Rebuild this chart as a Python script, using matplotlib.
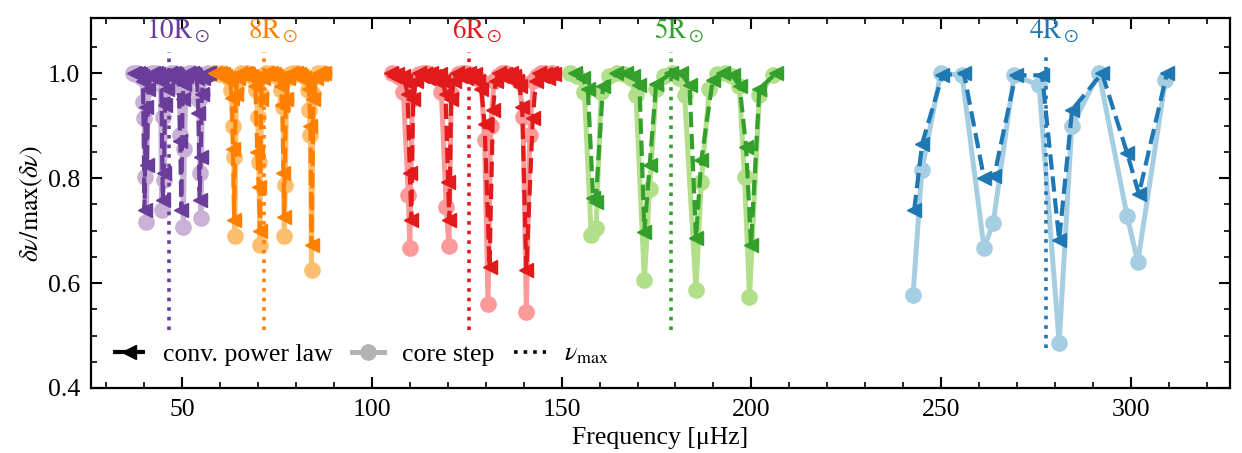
import numpy as np
import matplotlib
matplotlib.use("Agg")
import matplotlib.pyplot as plt
from matplotlib.lines import Line2D

plt.rcParams['font.family'] = ['Liberation Serif', 'DejaVu Serif']
plt.rcParams['mathtext.fontset'] = 'stix'

# ---------- data ----------
labels = ['10', '8', '6', '5', '4']
dark = ['#6a3d9a', '#ff7f00', '#e31a1c', '#33a02c', '#1f78b4']
light = ['#cab2d6', '#fdbf6f', '#fb9a99', '#b2df8a', '#a6cee3']
numax = [46.6, 71.7, 125.5, 178.9, 277.6]
numax_lo = [0.51, 0.51, 0.51, 0.51, 0.476]
numax_hi = [1.04, 1.04, 1.04, 1.04, 1.04]

# 10 Msun
fc10 = [37.1, 37.6, 38.1, 38.6, 39.0, 39.4, 39.7, 40.0, 40.3, 40.6, 41.0, 41.5,
        42.0, 42.5, 43.0, 43.5, 43.9, 44.3, 44.6, 45.0, 45.3, 45.6, 46.0, 46.5,
        47.0, 47.5, 48.0, 48.4, 48.8, 49.2, 49.5, 49.9, 50.3, 50.6, 51.0, 51.4,
        51.9, 52.4, 52.9, 53.3, 53.7, 54.1, 54.4, 54.7, 55.0, 55.3, 55.7, 56.2, 56.7]
dc10 = [1.0, 0.998, 1.0, 0.998, 0.995, 0.99, 0.945, 0.914, 0.802, 0.717, 0.97, 0.995,
        1.0, 0.998, 1.0, 0.998, 0.995, 0.99, 0.739, 0.917, 0.796, 0.97, 0.995, 0.998,
        1.0, 0.998, 1.0, 0.998, 0.995, 0.99, 0.882, 0.97, 0.707, 0.855, 0.97, 0.995,
        1.0, 0.998, 1.0, 0.998, 0.995, 0.99, 0.949, 0.81, 0.724, 0.96, 0.99, 0.998, 1.0]
fp10 = [37.4, 37.9, 38.4, 38.9, 39.3, 39.7, 40.1, 40.4, 40.7, 41.1, 41.6,
        42.2, 42.7, 43.2, 43.7, 44.1, 44.5, 44.9, 45.2, 45.5, 45.9, 46.4,
        46.9, 47.4, 47.9, 48.3, 48.7, 49.1, 49.5, 49.8, 50.1, 50.5, 51.0,
        51.6, 52.1, 52.6, 53.1, 53.5, 53.9, 54.3, 54.6, 54.9, 55.2, 55.6, 56.1, 56.6, 57.1]
dp10 = [1.0, 0.998, 1.0, 0.998, 0.995, 0.985, 0.739, 0.936, 0.825, 0.97, 0.995,
        1.0, 0.998, 1.0, 0.998, 0.995, 0.985, 0.758, 0.81, 0.94, 0.97, 0.995,
        1.0, 0.998, 1.0, 0.998, 0.995, 0.985, 0.87, 0.739, 0.95, 0.98, 0.995,
        1.0, 0.998, 1.0, 0.998, 0.995, 0.99, 0.925, 0.758, 0.84, 0.96, 0.99, 0.998, 1.0, 1.0]

# 8 Msun
fc8 = [58.3, 59.0, 59.7, 60.4, 61.1, 61.8, 62.4, 62.9, 63.3, 63.6, 63.9, 64.3, 64.9,
       65.6, 66.3, 67.0, 67.7, 68.4, 69.0, 69.5, 69.9, 70.2, 70.5, 70.9, 71.5,
       72.2, 72.9, 73.6, 74.3, 75.0, 75.6, 76.1, 76.6, 76.9, 77.2, 77.5, 77.9, 78.5,
       79.2, 79.9, 80.6, 81.3, 82.0, 82.6, 83.1, 83.5, 83.8, 84.1, 84.5, 85.2, 85.9, 86.6, 87.3]
dc8 = [1.0, 1.0, 0.998, 1.0, 0.998, 0.995, 0.99, 0.968, 0.90, 0.84, 0.69, 0.97, 0.995,
       1.0, 0.998, 1.0, 0.998, 0.995, 0.99, 0.968, 0.917, 0.83, 0.672, 0.96, 0.995,
       1.0, 0.998, 1.0, 0.998, 0.995, 0.99, 0.968, 0.936, 0.69, 0.787, 0.95, 0.99, 0.998,
       1.0, 0.998, 1.0, 0.998, 0.995, 0.99, 0.968, 0.93, 0.882, 0.625, 0.96, 0.995, 1.0, 0.998, 1.0]
fp8 = [58.6, 59.3, 60.0, 60.7, 61.4, 62.0, 62.6, 63.1, 63.4, 63.7, 64.1, 64.6,
       65.3, 66.0, 66.7, 67.4, 68.1, 68.7, 69.3, 69.8, 70.2, 70.5, 70.8, 71.3,
       72.0, 72.7, 73.4, 74.1, 74.8, 75.4, 76.0, 76.4, 76.7, 76.9, 77.3, 77.9,
       78.6, 79.3, 80.0, 80.7, 81.4, 82.1, 82.8, 83.4, 83.8, 84.1, 84.6, 85.3, 86.0, 86.7, 87.4]
dp8 = [1.0, 0.998, 1.0, 0.998, 0.995, 0.99, 0.985, 0.952, 0.855, 0.72, 0.96, 0.99,
       1.0, 0.998, 1.0, 0.998, 0.995, 0.99, 0.975, 0.85, 0.784, 0.70, 0.95, 0.99,
       1.0, 0.998, 1.0, 0.998, 0.995, 0.99, 0.975, 0.94, 0.81, 0.726, 0.95, 0.99,
       1.0, 0.998, 1.0, 0.998, 0.995, 0.99, 0.985, 0.97, 0.90, 0.672, 0.95, 0.99, 1.0, 0.998, 1.0]

# 6 Msun
fc6 = [105.2, 106.0, 106.8, 107.6, 108.3, 109.6, 110.0, 110.6, 111.5,
       112.5, 113.5, 114.5, 115.5, 116.5, 117.4, 118.3, 119.6, 120.3, 120.9, 121.8,
       122.8, 123.8, 124.8, 125.8, 126.8, 127.8, 128.8, 129.7, 130.6, 131.3, 132.2,
       133.2, 134.2, 135.2, 136.2, 137.2, 138.0, 138.8, 139.8, 140.7, 141.6, 142.5,
       143.5, 144.5, 145.5, 146.5, 147.5]
dc6 = [1.0, 0.998, 0.995, 0.99, 0.964, 0.768, 0.667, 0.95, 0.99,
       0.998, 1.0, 1.0, 0.998, 0.995, 0.99, 0.964, 0.745, 0.670, 0.96, 0.99,
       0.998, 1.0, 1.0, 0.998, 0.995, 0.99, 0.985, 0.872, 0.561, 0.90, 0.985,
       0.995, 1.0, 1.0, 0.998, 0.995, 0.99, 0.985, 0.917, 0.545, 0.882, 0.985,
       0.995, 1.0, 1.0, 0.998, 1.0]
fp6 = [105.0, 105.8, 106.6, 107.4, 108.1, 108.7, 109.4, 110.0, 110.4, 110.9, 111.6,
       112.4, 113.2, 114.0, 114.8, 115.6, 116.4, 117.2, 118.0, 118.7, 119.4, 120.1, 120.4, 120.9, 121.6,
       122.4, 123.2, 124.0, 124.8, 125.6, 126.4, 127.2, 128.0, 128.8, 129.7, 131.0, 131.9, 132.6,
       133.4, 134.2, 135.0, 135.8, 136.6, 137.4, 138.2, 138.9, 139.6, 140.7, 142.4, 143.2,
       144.0, 144.8, 145.6, 146.4, 147.2, 148.0]
dp6 = [1.0, 0.995, 0.998, 0.99, 0.995, 0.985, 0.96, 0.81, 0.72, 0.95, 0.985,
       1.0, 0.995, 0.998, 0.99, 1.0, 0.995, 0.985, 0.998, 0.985, 0.96, 0.793, 0.72, 0.95, 0.985,
       1.0, 0.995, 0.998, 0.99, 1.0, 0.995, 0.998, 0.985, 0.97, 0.904, 0.631, 0.93, 0.985,
       1.0, 0.995, 0.998, 0.99, 1.0, 0.995, 0.985, 0.975, 0.936, 0.625, 0.914, 0.985,
       1.0, 0.995, 0.998, 0.99, 1.0, 0.998]

# 5 Msun
fc5 = [152.1, 154.0, 156.0, 157.8, 159.1, 160.4, 162.5, 164.5, 166.5, 168.2,
       169.6, 171.8, 173.2, 174.9, 177.0, 179.0, 181.0, 182.4, 185.4, 186.8,
       188.9, 191.0, 193.0, 195.0, 196.8, 198.2, 199.5, 202.1, 205.6]
dc5 = [1.0, 0.995, 0.964, 0.691, 0.705, 0.964, 0.995, 1.0, 0.998, 0.99,
       0.958, 0.606, 0.780, 0.970, 0.995, 1.0, 0.99, 0.958, 0.587, 0.793,
       0.970, 0.998, 1.0, 0.995, 0.975, 0.802, 0.574, 0.958, 0.996]
fp5 = [153.4, 155.5, 156.9, 158.3, 159.0, 160.9, 164.4, 167.0, 168.8, 170.5,
       171.8, 173.2, 174.9, 178.9, 181.5, 183.7, 185.4, 186.8, 189.8, 192.5,
       195.1, 196.9, 198.6, 199.9, 202.1, 206.5]
dp5 = [1.0, 0.99, 0.97, 0.762, 0.755, 0.975, 1.0, 1.0, 0.995, 0.977,
       0.698, 0.825, 0.98, 1.0, 1.0, 0.977, 0.686, 0.834, 0.987, 1.0,
       0.996, 0.975, 0.86, 0.672, 0.97, 1.0]

# 4 Msun
fc4 = [242.6, 244.9, 249.9, 255.5, 261.3, 263.7, 269.2, 275.8, 281.1, 284.4, 291.6, 299.0, 301.8, 309.1]
dc4 = [0.577, 0.815, 1.0, 0.996, 0.667, 0.714, 0.996, 0.977, 0.486, 0.899, 1.0, 0.728, 0.640, 0.987]
fp4 = [242.9, 245.0, 250.3, 256.0, 261.3, 264.0, 269.6, 276.6, 281.1, 284.5, 292.4, 299.0, 302.1, 309.5]
dp4 = [0.739, 0.866, 0.996, 1.0, 0.800, 0.805, 0.996, 0.996, 0.682, 0.930, 1.0, 0.848, 0.770, 1.0]

core_f = [fc10, fc8, fc6, fc5, fc4]
core_d = [dc10, dc8, dc6, dc5, dc4]
pl_f = [fp10, fp8, fp6, fp5, fp4]
pl_d = [dp10, dp8, dp6, dp5, dp4]

# ---------- plot ----------
fs = 18.5
fig = plt.figure(figsize=(12.42, 4.53), dpi=100)
ax = fig.add_axes([0.0733, 0.1435, 0.9167, 0.8165])

for i in range(5):
    ax.plot(core_f[i], core_d[i], '-o', color=light[i], lw=3.6, ms=11, zorder=2)
    ax.vlines(numax[i], numax_lo[i], numax_hi[i], colors=dark[i], linestyles=':', lw=2.6, zorder=3)
    ax.plot(pl_f[i], pl_d[i], '--<', color=dark[i], lw=3.0, ms=10.5, zorder=4)
    ax.annotate(r'$%s\mathrm{R}_\odot$' % labels[i], (numax[i], 1.08), xytext=(6, 0),
                textcoords='offset points', ha='center', va='center',
                color=dark[i], fontsize=19.5)

ax.set_xlim(26, 326)
ax.set_ylim(0.4, 1.105)
ax.set_xticks([50, 100, 150, 200, 250, 300])
ax.set_yticks([0.4, 0.6, 0.8, 1.0])
ax.set_xticks(np.arange(30, 330, 10), minor=True)
ax.set_yticks(np.arange(0.4, 1.1, 0.05), minor=True)
ax.tick_params(which='both', direction='in', top=True, right=True, labelsize=fs, pad=8)
ax.tick_params(which='major', length=8, width=1.5)
ax.tick_params(which='minor', length=4, width=1.2)
for s in ax.spines.values():
    s.set_linewidth(1.6)

ax.set_xlabel('Frequency [μHz]', fontsize=fs, labelpad=4)
ax.set_ylabel(r'$\delta\nu/\max(\delta\nu)$', fontsize=fs, labelpad=2)

handles = [Line2D([], [], color='k', ls='--', lw=3, marker='<', ms=10),
           Line2D([], [], color='0.7', ls='-', lw=3.6, marker='o', ms=11),
           Line2D([], [], color='k', ls=':', lw=2.6)]
ax.legend(handles, ['conv. power law', 'core step', r'$\nu_{\rm max}$'],
          loc='lower left', ncol=3, frameon=False, fontsize=fs,
          handlelength=1.25, handletextpad=0.7, columnspacing=0.75, borderaxespad=0.45)

fig.savefig('out.png', dpi=100)
